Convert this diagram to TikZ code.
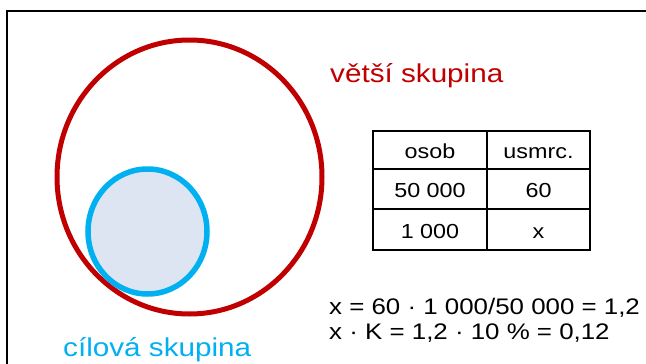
\documentclass[tikz,border=0pt]{standalone}
\usepackage{fontspec}
\setmainfont[FakeStretch=1.15]{Liberation Sans}
\usetikzlibrary{shapes.geometric}
\definecolor{setred}{HTML}{C00000}
\definecolor{setblue}{HTML}{00B0F0}
\definecolor{setfill}{HTML}{DCE5F1}
\tikzset{
  frameline/.style={line width=2pt, black},
  bigset/.style={ellipse, draw=setred, line width=5pt, inner sep=0pt, minimum width=265pt, minimum height=274pt},
  smallset/.style={ellipse, draw=setblue, fill=setfill, line width=5.5pt, inner sep=0pt, minimum width=119pt, minimum height=125pt},
  cell/.style={draw, line width=1.7pt, inner sep=0pt, font=\fontsize{20.3}{24}\selectfont, text height=17.5pt, text depth=0pt},
  eqn/.style={anchor=base west, inner sep=0pt, font=\fontsize{22.5}{27}\selectfont},
  lbl/.style={anchor=base west, inner sep=0pt, font=\fontsize{25.8}{31}\selectfont}
}
\begin{document}
\begin{tikzpicture}[x=1pt,y=-1pt]
\useasboundingbox (0,0) rectangle (646,364);
\draw[frameline] (7,368) -- (7,11) -- (650,11);
\node[bigset] (big) at (189.5,177) {};
\node[smallset] (small) at (147.5,231.5) {};
\node[lbl, text=setred] (biglbl) at (330,82) {větší skupina};
\node[lbl, text=setblue] (smalllbl) at (63,356) {cílová skupina};
% table
\node[cell, minimum width=114pt, minimum height=38pt] (h1) at (430,150) {osob};
\node[cell, minimum width=103pt, minimum height=38pt] (h2) at (538.5,150) {usmrc.};
\node[cell, minimum width=114pt, minimum height=40pt] (a1) at (430,189) {50 000};
\node[cell, minimum width=103pt, minimum height=40pt] (a2) at (538.5,189) {60};
\node[cell, minimum width=114pt, minimum height=41pt] (b1) at (430,229.5) {1 000};
\node[cell, minimum width=103pt, minimum height=41pt] (b2) at (538.5,229.5) {x};
% equations
\node[eqn] (eq1) at (329,314) {x = 60 · 1 000/50 000 = 1,2};
\node[eqn] (eq2) at (329,339) {x · K = 1,2 · 10 \% = 0,12};
\end{tikzpicture}
\end{document}
